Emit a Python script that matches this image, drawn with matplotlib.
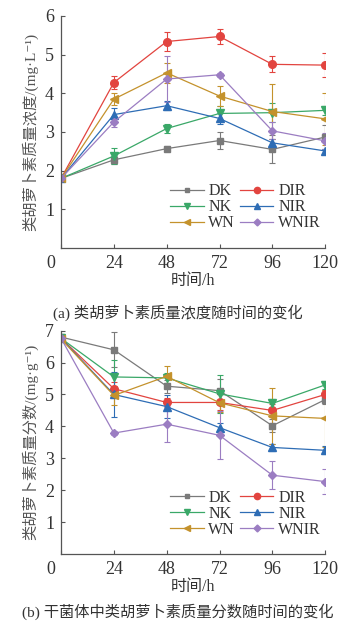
import matplotlib
matplotlib.use("Agg")
import matplotlib.pyplot as plt
from matplotlib.lines import Line2D
from matplotlib.transforms import ScaledTranslation

plt.rcParams['font.family'] = ['Liberation Serif', 'Noto Sans CJK SC', 'DejaVu Sans']

hours = [0, 24, 48, 72, 96, 120]
groups = ['DK', 'DIR', 'NK', 'NIR', 'WN', 'WNIR']

# (a) concentration, mg/L
conc = {
    'DK':   [1.80, 2.28, 2.57, 2.78, 2.55, 2.87],
    'DIR':  [1.80, 4.28, 5.34, 5.47, 4.75, 4.73],
    'NK':   [1.80, 2.38, 3.09, 3.48, 3.50, 3.56],
    'NIR':  [1.80, 3.45, 3.68, 3.35, 2.72, 2.51],
    'WN':   [1.80, 3.85, 4.53, 3.93, 3.53, 3.34],
    'WNIR': [1.80, 3.26, 4.37, 4.48, 3.03, 2.77],
}
conc_err = {
    'DK':   [0.03, 0.10, 0.07, 0.21, 0.36, 0.30],
    'DIR':  [0.03, 0.17, 0.25, 0.20, 0.21, 0.32],
    'NK':   [0.03, 0.20, 0.12, 0.20, 0.25, 0.12],
    'NIR':  [0.03, 0.16, 0.12, 0.15, 0.10, 0.05],
    'WN':   [0.03, 0.15, 0.25, 0.26, 0.70, 0.68],
    'WNIR': [0.03, 0.13, 0.60, 0.05, 0.22, 0.20],
}

# (b) content in dry mycelium, mg/g
frac = {
    'DK':   [6.80, 6.40, 5.26, 5.12, 4.02, 4.84],
    'DIR':  [6.76, 5.18, 4.75, 4.75, 4.50, 5.00],
    'NK':   [6.76, 5.55, 5.52, 5.02, 4.72, 5.30],
    'NIR':  [6.76, 5.00, 4.62, 3.96, 3.34, 3.25],
    'WN':   [6.74, 4.97, 5.57, 4.74, 4.33, 4.25],
    'WNIR': [6.76, 3.79, 4.07, 3.72, 2.47, 2.27],
}
frac_err = {
    'DK':   [0.05, 0.55, 0.20, 0.35, 0.20, 0.15],
    'DIR':  [0.05, 0.20, 0.15, 0.25, 0.20, 0.15],
    'NK':   [0.05, 0.52, 0.15, 0.60, 0.15, 0.12],
    'NIR':  [0.05, 0.72, 0.35, 0.15, 0.12, 0.12],
    'WN':   [0.05, 0.30, 0.32, 0.30, 0.88, 0.90],
    'WNIR': [0.05, 0.05, 0.56, 0.75, 0.43, 0.38],
}

colors = {'DK': '#7a7a7a', 'DIR': '#e2443f', 'NK': '#3aa868', 'NIR': '#2e6db5',
          'WN': '#c4922c', 'WNIR': '#9b7dc2'}
markers = {'DK': 's', 'DIR': 'o', 'NK': 'v', 'NIR': '^', 'WN': '<', 'WNIR': 'D'}
msizes = {'DK': 4.5, 'DIR': 5.5, 'NK': 5.5, 'NIR': 5.5, 'WN': 5.5, 'WNIR': 4.5}

txt = '#333333'

fig = plt.figure(figsize=(3.55, 6.25), dpi=100)
ax1 = fig.add_axes([0.172, 0.6032, 0.744, 0.3712])
ax2 = fig.add_axes([0.172, 0.1136, 0.744, 0.3573])

# legend is filled row by row in the reference
leg_order = ['DK', 'NK', 'WN', 'DIR', 'NIR', 'WNIR']


def draw(ax, vals, errs, ymax, ylabel):
    for g in groups:
        ax.errorbar(hours, vals[g], yerr=errs[g], color=colors[g], marker=markers[g],
                    ms=msizes[g], lw=0.9, elinewidth=0.8, capsize=2.5, capthick=0.8)
    ax.set_xlim(0, 120)
    ax.set_ylim(0, ymax)
    ax.set_xticks(hours)
    ax.set_yticks(range(1, ymax + 1))
    ax.spines['top'].set_visible(False)
    ax.spines['right'].set_visible(False)
    for s in ('left', 'bottom'):
        ax.spines[s].set_color('#555555')
        ax.spines[s].set_linewidth(0.9)
    ax.tick_params(direction='in', length=3, width=0.8, colors='#555555',
                   labelsize=13, labelcolor=txt, pad=5)
    lab0 = ax.get_xticklabels()[0]
    lab0.set_transform(lab0.get_transform() + ScaledTranslation(-0.1, 0, fig.dpi_scale_trans))
    ax.set_xlabel('时间/h', fontsize=11.5, color=txt, labelpad=1)
    ax.set_ylabel(ylabel, fontsize=11, color='#555555', labelpad=5)
    handles = [Line2D([], [], color=colors[g], marker=markers[g], ms=msizes[g] - 1,
                      lw=0.9) for g in leg_order]
    ax.legend(handles, leg_order, ncol=2, loc='lower right', bbox_to_anchor=(1.02, 0.03),
              frameon=False, fontsize=11.5, handlelength=2.1, handletextpad=0.3,
              columnspacing=0.3, labelspacing=0.0, borderaxespad=0.2, labelcolor=txt)


draw(ax1, conc, conc_err, 6, '类胡萝卜素质量浓度/(mg·L⁻¹)')
draw(ax2, frac, frac_err, 7, '类胡萝卜素质量分数/(mg·g⁻¹)')

fig.text(0.5, 1 - 313 / 625, '(a) 类胡萝卜素质量浓度随时间的变化', ha='center', va='center',
         fontsize=11, color=txt)
fig.text(0.5, 1 - 612 / 625, '(b) 干菌体中类胡萝卜素质量分数随时间的变化', ha='center', va='center',
         fontsize=11, color=txt)

fig.savefig('out.png', dpi=100)
